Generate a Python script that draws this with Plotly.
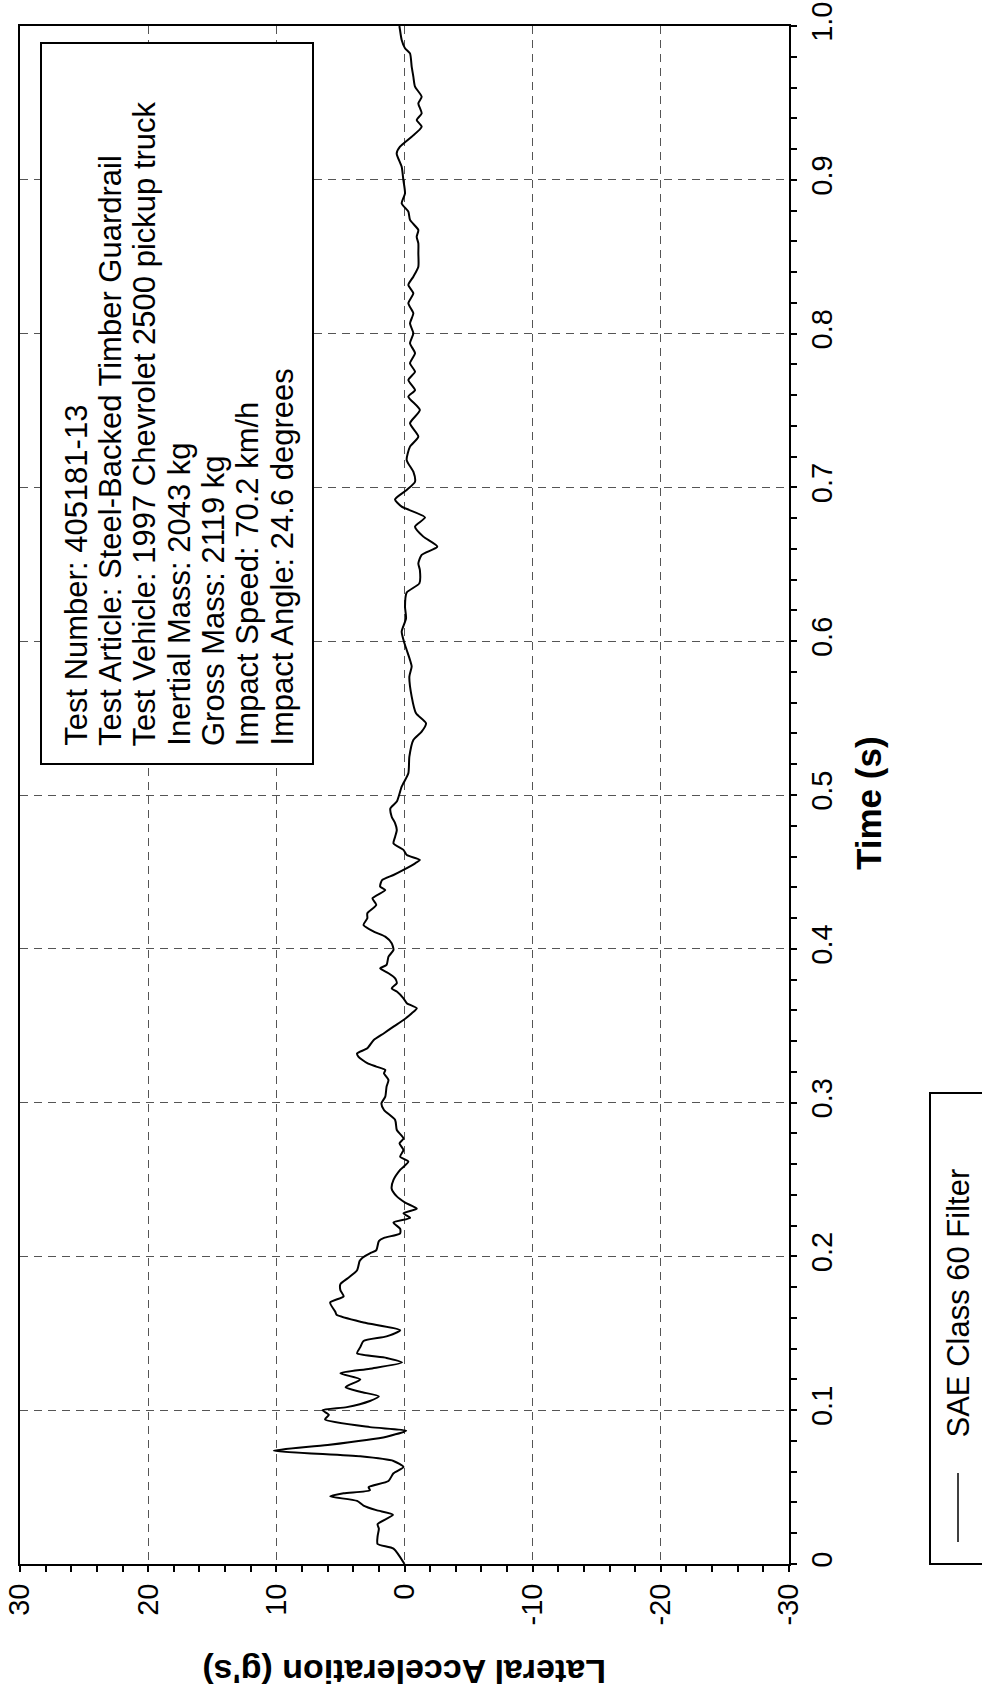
import plotly.graph_objects as go

# ---------------- data ----------------
time_s = [
    0.0, 0.010, 0.013, 0.018, 0.023, 0.026, 0.032, 0.035, 0.038, 0.041, 0.044, 0.046, 0.048, 0.050,
    0.054, 0.059, 0.063, 0.067, 0.070, 0.0737, 0.0774, 0.0828, 0.0867, 0.089, 0.094, 0.097, 0.100,
    0.102, 0.106, 0.109, 0.112, 0.115, 0.120, 0.124, 0.127, 0.131, 0.134, 0.137, 0.141, 0.145, 0.148,
    0.152, 0.157, 0.162, 0.164, 0.170, 0.174, 0.178, 0.182, 0.186, 0.191, 0.197, 0.199, 0.202, 0.204,
    0.210, 0.212, 0.215, 0.218, 0.222, 0.225, 0.228, 0.231, 0.235, 0.239, 0.244,
    0.2497, 0.2562, 0.2616, 0.2648, 0.2692, 0.2735, 0.2767, 0.2822, 0.2887, 0.2952, 0.2995, 0.3039,
    0.3104, 0.3147, 0.3190, 0.3212, 0.3234, 0.3256, 0.3299, 0.3320, 0.3353, 0.3407, 0.3451, 0.3494,
    0.3537, 0.3581, 0.3613, 0.3646, 0.3678, 0.3722, 0.3743, 0.3776, 0.3808, 0.3841, 0.3873, 0.3895,
    0.3949, 0.3992, 0.4036, 0.4079, 0.4112, 0.4155, 0.4198, 0.4231, 0.4285, 0.4328, 0.4382, 0.4404,
    0.4447, 0.4480, 0.4513, 0.4556, 0.4578, 0.4610, 0.4643, 0.4686, 0.4729, 0.4773, 0.4816, 0.4859,
    0.4913, 0.4957,
    0.5054, 0.5141, 0.5249, 0.5358, 0.5412, 0.5466, 0.5531, 0.5640, 0.5770, 0.5835, 0.5878, 0.5943,
    0.5997, 0.6062, 0.6149, 0.6224, 0.6316, 0.6376, 0.6463, 0.6506, 0.6561, 0.6615, 0.6680, 0.6745,
    0.6805, 0.6875, 0.6922, 0.6983, 0.7037, 0.7102, 0.7178, 0.7265, 0.7330, 0.7417, 0.7503,
    0.7590, 0.7633, 0.7698, 0.7752, 0.7807, 0.7872, 0.7937, 0.8002, 0.8067, 0.8132, 0.8197, 0.8262,
    0.8316, 0.8370, 0.8435, 0.8522, 0.8587, 0.8630, 0.8674, 0.8739, 0.8793, 0.8847, 0.8912, 0.8999,
    0.9085, 0.9172, 0.9215, 0.9280, 0.9345, 0.9389, 0.9432, 0.9497, 0.9540, 0.9606, 0.9671, 0.9736,
    0.9822, 0.9855, 0.9909, 0.9974, 1.0,
]
accel_g = [
    0.0, 0.86, 2.1, 2.1, 2.0, 2.1, 0.9, 2.2, 3.2, 3.7, 5.8, 4.75, 2.7, 2.8,
    1.25, 0.86, 0.08, 0.86, 3.45, 10.2, 6.0, 1.4, -0.13, 2.7, 6.2, 5.9, 6.4,
    4.5, 2.7, 2.0, 3.45, 4.6, 3.45, 5.0, 2.7, 0.2, 1.4, 3.7, 3.45, 3.2, 1.4,
    0.34, 3.2, 5.3, 5.4, 5.8, 4.75, 5.0, 5.0, 4.4, 3.7, 3.5, 3.3, 2.7, 2.2,
    2.0, 1.6, 0.34, 0.34, 0.86, -0.44, 0.08, -0.96, -0.05, 0.6, 1.0,
    0.86, 0.34, -0.3, 0.34, 0.08, 0.39, 0.08, 0.6, 0.73, 1.6, 1.8, 1.5,
    1.4, 1.25, 1.6, 1.5, 2.2, 2.9, 3.6, 3.7, 2.9, 2.4, 1.6, 0.86,
    0.08, -0.57, -0.96, -0.18, 0.08, 0.6, 1.0, 0.6, 0.73, 1.25, 1.9, 1.4,
    1.25, 0.86, 1.0, 1.5, 2.4, 3.2, 2.9, 2.9, 2.2, 2.5, 1.5, 1.9,
    1.75, 0.86, 0.08, -0.83, -1.2, -0.18, 0.08, 0.86, 0.73, 0.6, 0.73, 1.0,
    1.1, 0.6,
    0.22, -0.3, -0.38, -0.69, -1.34, -1.68, -0.9, -0.56, -0.38, -0.56, -0.43, -0.17,
    0.04, 0.22, -0.12, -0.04, -0.17, -1.16, -1.2, -1.08, -1.34, -2.56, -1.47, -0.82,
    -1.6, 0.22, 0.74, -0.17, -0.82, -0.69, -0.17, -0.43, -1.08, -0.43, -1.2,
    -0.3, -0.82, -0.3, -0.82, -0.43, -0.82, -0.43, -0.69, -0.43, -0.69, -0.3, -0.69,
    -0.3, -0.69, -1.08, -1.08, -1.08, -0.95, -1.08, -0.43, -0.3, 0.22, -0.04, 0.09,
    0.22, 0.61, 0.35, -0.56, -1.34, -0.95, -1.34, -1.08, -1.34, -0.82, -0.69, -0.56,
    -0.43, -0.04, 0.22, 0.35, 0.4,
]
accel_ticks = [30, 20, 10, 0, -10, -20, -30]
accel_tick_labels = ["30", "20", "10", "0", "-10", "-20", "-30"]
time_ticks = [0, 0.1, 0.2, 0.3, 0.4, 0.5, 0.6, 0.7, 0.8, 0.9, 1.0]
time_tick_labels = ["0", "0.1", "0.2", "0.3", "0.4", "0.5", "0.6", "0.7", "0.8", "0.9", "1.0"]
info_lines = [
    "Test Number: 405181-13",
    "Test Article: Steel-Backed Timber Guardrail",
    "Test Vehicle: 1997 Chevrolet 2500 pickup truck",
    "Inertial Mass: 2043 kg",
    "Gross Mass: 2119 kg",
    "Impact Speed: 70.2 km/h",
    "Impact Angle: 24.6 degrees",
]
series_name = "SAE Class 60 Filter"
accel_title = "Lateral Acceleration (g's)"
time_title = "Time (s)"

# ---------------- layout helpers (pixel -> paper) ----------------
W, H = 982, 1696
PL, PR, PT, PB = 20, 789, 26, 1564


def px(x):
    return (x - PL) / (PR - PL)


def py(y):
    return (PB - y) / (PB - PT)


FONT = "Liberation Sans, Arial, Helvetica, sans-serif"

fig = go.Figure(
    go.Scatter(
        x=accel_g, y=time_s, mode="lines", name=series_name,
        line=dict(color="black", width=2, shape="spline", smoothing=0.6),
        showlegend=False,
    )
)

axis_common = dict(
    tickmode="array",
    tickangle=-90,
    automargin=False,
    ticks="outside", ticklen=6, tickwidth=2, tickcolor="black",
    showline=True, linewidth=2, linecolor="black", mirror=True,
    showgrid=True, gridcolor="#555555", gridwidth=1, griddash="8px,6px",
    zeroline=False,
    tickfont=dict(family=FONT, size=29, color="black"),
)

fig.update_xaxes(
    range=[30, -30], tickvals=accel_ticks, ticktext=accel_tick_labels,
    minor=dict(tick0=0, dtick=2, ticks="outside", ticklen=6, tickwidth=2,
               tickcolor="black", showgrid=False),
    **axis_common,
)
fig.update_yaxes(
    side="right", range=[0, 1], tickvals=time_ticks, ticktext=time_tick_labels,
    minor=dict(tick0=0, dtick=0.02, ticks="outside", ticklen=6, tickwidth=2,
               tickcolor="black", showgrid=False),
    **axis_common,
)

shapes = [
    # info box
    dict(type="rect", xref="paper", yref="paper",
         x0=px(41), x1=px(313), y0=py(764), y1=py(43),
         line=dict(color="black", width=2), fillcolor="white", layer="above"),
    # legend box
    dict(type="rect", xref="paper", yref="paper",
         x0=px(930), x1=px(1030), y0=py(1564), y1=py(1093),
         line=dict(color="black", width=2), fillcolor="rgba(0,0,0,0)"),
    # legend line sample
    dict(type="line", xref="paper", yref="paper",
         x0=px(958), x1=px(958), y0=py(1542), y1=py(1473),
         line=dict(color="black", width=1.5)),
]

annotations = [
    dict(text="<b>" + accel_title + "</b>", xref="paper", yref="paper",
         x=px(404.5), y=py(1672), xanchor="center", yanchor="middle",
         textangle=180, showarrow=False, font=dict(family=FONT, size=34, color="black")),
    dict(text="<b>" + time_title + "</b>", xref="paper", yref="paper",
         x=px(868), y=py(803), xanchor="center", yanchor="middle",
         textangle=-90, showarrow=False, font=dict(family=FONT, size=35, color="black")),
    dict(text=series_name, xref="paper", yref="paper",
         x=px(958), y=py(1440), xanchor="center", yanchor="bottom",
         textangle=-90, showarrow=False, font=dict(family=FONT, size=31, color="black")),
]
for i, line in enumerate(info_lines):
    annotations.append(
        dict(text=line, xref="paper", yref="paper",
             x=px(76.3 + 34.3 * i), y=py(747), xanchor="center", yanchor="bottom",
             textangle=-90, showarrow=False, borderpad=0,
             font=dict(family=FONT, size=31, color="black"))
    )

fig.update_layout(
    template="none",
    width=W, height=H,
    margin=dict(l=PL, r=W - PR, t=PT, b=H - PB, pad=0, autoexpand=False),
    paper_bgcolor="white", plot_bgcolor="white",
    shapes=shapes, annotations=annotations,
    font=dict(family=FONT, color="black"),
)

fig.write_html(
    "out.html",
    config={"displayModeBar": False},
    post_script="document.body.style.margin='0';",
)
